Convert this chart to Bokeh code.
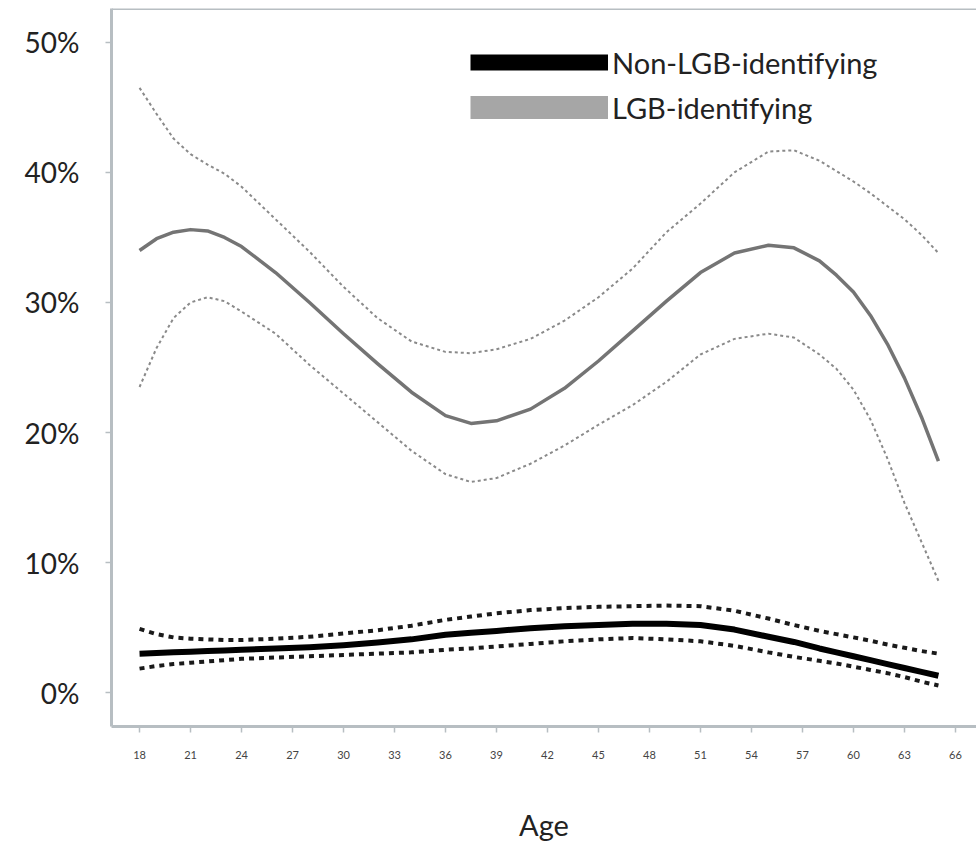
from bokeh.plotting import figure
from bokeh.models import Legend, LegendItem, Span, FixedTicker, Range1d
from bokeh.embed import file_html
from bokeh.resources import INLINE

NAN = float("nan")

# ---- data (percent) ----
ages = [18, 19, 20, 21, 22, 23, 24, 26, 28, 30, 32, 34, 36, 37.5, 39, 41, 43, 45,
        47, 49, 51, 53, 55, 56.5, 58, 59, 60, 61, 62, 63, 64, 65]

lgb_est = [34.0, 34.9, 35.4, 35.6, 35.5, 35.0, 34.3, 32.3, 30.0, 27.6, 25.3, 23.1, 21.3, 20.7,
           20.9, 21.8, 23.4, 25.5, 27.8, 30.1, 32.3, 33.8, 34.4, 34.2, 33.2, 32.1, 30.8, 29.0,
           26.8, 24.2, 21.2, 17.8]
lgb_upper = [46.5, 44.5, 42.6, 41.4, 40.6, 39.9, 38.9, 36.4, 33.9, 31.2, 28.8, 27.0, 26.2, 26.1,
             26.4, 27.2, 28.6, 30.4, 32.6, 35.4, 37.6, 40.0, 41.6, 41.7, 40.9, 40.1, 39.3, 38.4,
             37.4, 36.4, 35.2, 33.8]
lgb_lower = [23.5, 26.5, 28.8, 30.0, 30.4, 30.1, 29.3, 27.6, 25.2, 23.0, 20.8, 18.6, 16.8, 16.2,
             16.5, 17.6, 19.0, 20.6, 22.1, 23.9, 26.0, 27.2, 27.6, 27.3, 26.0, 24.9, 23.3, 21.0,
             18.0, 14.6, 11.6, 8.6]

non_est = [3.0, 3.05, 3.1, 3.15, 3.2, 3.25, 3.3, 3.4, 3.5, 3.65, 3.85, 4.1, 4.45, 4.6, 4.75,
           4.95, 5.1, 5.2, 5.3, 5.3, 5.2, 4.85, 4.3, 3.9, 3.4, 3.1, 2.8, 2.5, 2.2, 1.9, 1.6, 1.3]
non_upper = [4.9, 4.5, 4.25, 4.15, 4.1, 4.05, 4.05, 4.15, 4.3, 4.55, 4.8, 5.15, 5.6, 5.85, 6.1,
             6.35, 6.5, 6.6, 6.65, 6.7, 6.65, 6.3, 5.7, 5.2, 4.75, 4.5, 4.25, 4.0, 3.7, 3.45,
             3.2, 3.0]
non_lower = [1.85, 2.05, 2.2, 2.3, 2.4, 2.5, 2.6, 2.7, 2.8, 2.9, 3.0, 3.1, 3.3, 3.4, 3.55,
             3.75, 3.95, 4.1, 4.2, 4.1, 3.95, 3.6, 3.1, 2.75, 2.45, 2.25, 2.0, 1.75, 1.5, 1.2,
             0.85, 0.55]

x_ticks = list(range(18, 67, 3))
y_ticks = [0, 10, 20, 30, 40, 50]
y_tick_labels = ["0%", "10%", "20%", "30%", "40%", "50%"]
series_names = ["Non-LGB-identifying", "LGB-identifying"]

FONT = "Lato"
FRAME = "#b7bec2"
X_START, X_END = 16.35, 67.24
Y_START, Y_END = -2.6, 52.6

p = figure(width=976, height=849, output_backend="svg", toolbar_location=None,
           x_range=Range1d(X_START, X_END), y_range=Range1d(Y_START, Y_END),
           min_border_left=111, min_border_right=0, min_border_top=8, min_border_bottom=123)
p.outline_line_color = None
p.xgrid.visible = False
p.ygrid.visible = False
p.background_fill_color = "white"

# LGB
p.line(ages, lgb_upper, line_color="#8a8a8a", line_width=2, line_dash="3 3")
p.line(ages, lgb_lower, line_color="#8a8a8a", line_width=2, line_dash="3 3")
p.line(ages, lgb_est, line_color="#747474", line_width=3.5, line_join="round")
# Non-LGB
p.line(ages, non_upper, line_color="#1a1a1a", line_width=4, line_dash="5 5")
p.line(ages, non_lower, line_color="#1a1a1a", line_width=4, line_dash="5 5")
p.line(ages, non_est, line_color="black", line_width=6, line_join="round")

# legend swatches (not plotted: NaN data)
r_non = p.line([NAN], [NAN], line_color="black", line_width=16)
r_lgb = p.line([NAN], [NAN], line_color="#a6a6a6", line_width=23)
legend = Legend(items=[LegendItem(label=series_names[0], renderers=[r_non]),
                       LegendItem(label=series_names[1], renderers=[r_lgb])],
                location=(359, 599), glyph_width=138, glyph_height=40, spacing=5,
                padding=0, margin=0, label_standoff=4, border_line_color=None,
                background_fill_alpha=0, label_text_font=FONT,
                label_text_font_size="29px", label_text_color="#222222",
                label_height=40)
p.add_layout(legend, "center")

# top frame line
p.add_layout(Span(location=Y_END, dimension="width", line_color=FRAME, line_width=3))

# axes
for ax in (p.xaxis[0], p.yaxis[0]):
    ax.axis_line_color = FRAME
    ax.axis_line_width = 3
    ax.major_tick_line_color = FRAME
    ax.major_tick_line_width = 1.5
    ax.major_tick_out = 6
    ax.major_tick_in = 0
    ax.minor_tick_line_color = None

p.xaxis.ticker = FixedTicker(ticks=x_ticks)
p.xaxis.major_label_text_font = FONT
p.xaxis.major_label_text_font_size = "11px"
p.xaxis.major_label_text_color = "#444444"
p.xaxis.major_label_standoff = 18
p.xaxis.axis_label = "Age"
p.xaxis.axis_label_text_font = FONT
p.xaxis.axis_label_text_font_style = "normal"
p.xaxis.axis_label_text_font_size = "29px"
p.xaxis.axis_label_text_color = "#222222"
p.xaxis.axis_label_standoff = 45

p.yaxis.ticker = FixedTicker(ticks=y_ticks)
p.yaxis.major_label_overrides = {t: l for t, l in zip(y_ticks, y_tick_labels)}
p.yaxis.major_label_text_font = FONT
p.yaxis.major_label_text_font_size = "28px"
p.yaxis.major_label_text_color = "#222222"
p.yaxis.major_label_standoff = 26

open("out.html", "w").write(file_html(p, INLINE))
